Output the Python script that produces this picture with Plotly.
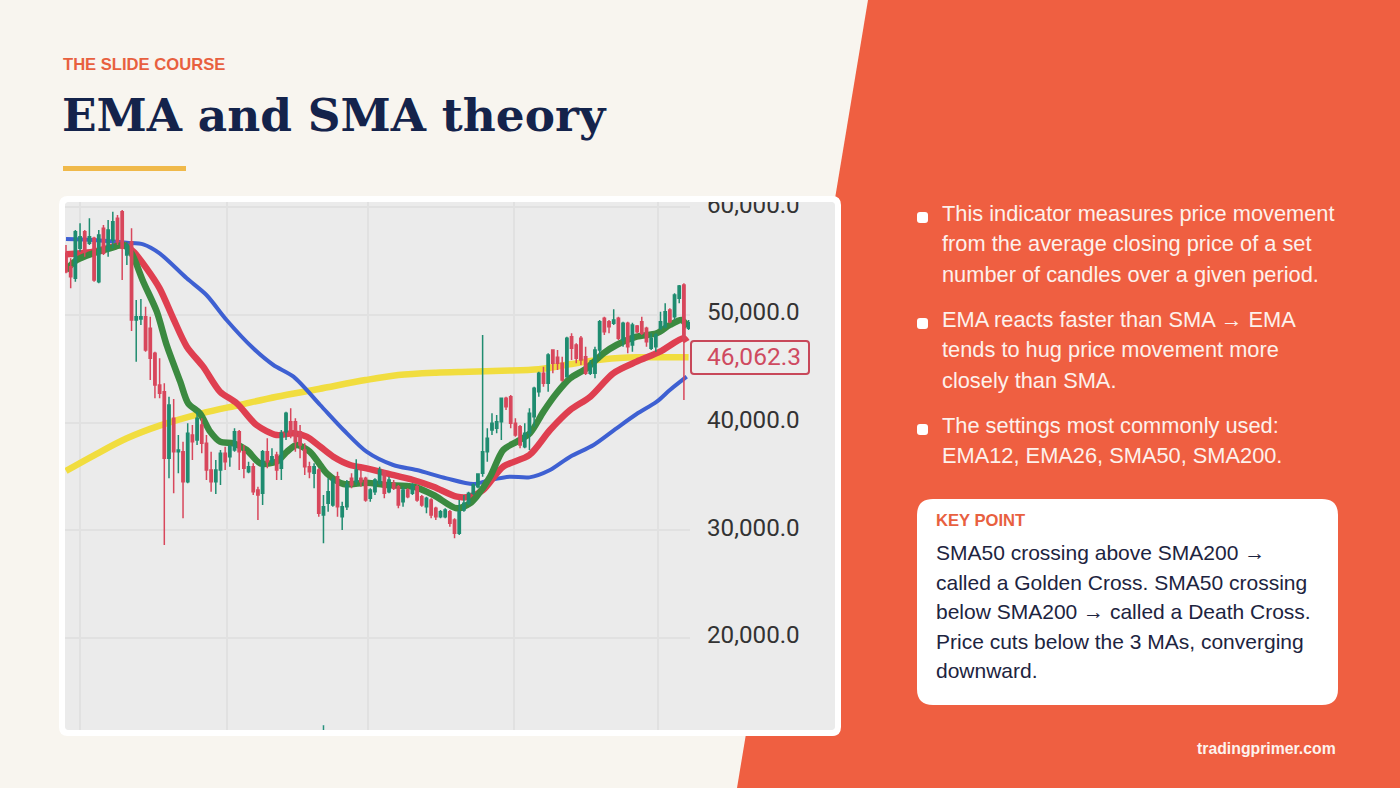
import plotly.graph_objects as go

candle_open = [55735, 54495, 53410, 56200, 57750, 56665, 57130, 53100, 58060, 56045,
    56975, 58990, 59610, 55580, 56820, 49535, 49628, 49845, 48760, 46435,
    43490, 42870, 36670, 40390, 37290, 37290, 34500, 38840, 38375, 39770,
    38065, 35585, 34500, 35585, 37135, 36825, 37445, 39150, 37290, 35430,
    35895, 33725, 33415, 37290, 36360, 36980, 35740, 39150, 40080, 40080,
    39150, 37445, 35895, 35275, 35585, 31400, 32485, 32330, 34965, 31245,
    32175, 34810, 34500, 34810, 34810, 32950, 33570, 34345, 35430, 33570,
    34345, 34035, 32640, 33725, 33415, 34035, 33105, 32175, 32795, 32020,
    31245, 31245, 31710, 30935, 29695, 31865, 32485, 33415, 34035, 35275,
    37290, 39305, 39460, 40080, 42250, 42405, 39925, 39615, 37755, 38995,
    40545, 42870, 44575, 43645, 46745, 46063, 45505, 44265, 47985, 47210,
    47830, 46125, 44575, 44575, 46745, 49690, 49380, 49225, 49690, 47675,
    49225, 47210, 48977, 49380, 48760, 46900, 47055, 48760, 48915, 50465,
    49845, 51550, 52790, 48760]
candle_high = [56510, 55270, 57905, 58525, 57905, 58990, 57285, 57905, 58370, 58835,
    59610, 59300, 59765, 56820, 58060, 51395, 51488, 50775, 49845, 46590,
    45970, 43645, 42405, 42188, 38840, 38220, 39925, 39770, 41010, 40390,
    38840, 37290, 36515, 37445, 37755, 37910, 39460, 39305, 37910, 36360,
    36205, 34035, 37445, 38530, 37600, 37290, 39305, 41010, 41320, 40390,
    39770, 38065, 36360, 36205, 35740, 33260, 34810, 34965, 35430, 32640,
    34655, 35275, 36577, 35585, 34965, 33880, 34810, 35895, 35585, 34965,
    34655, 34190, 34035, 33880, 34345, 34190, 33260, 33105, 32950, 32175,
    31865, 32020, 31865, 31090, 32795, 33260, 33570, 34345, 35275, 48140,
    39460, 40855, 40700, 42250, 42405, 42560, 40390, 39770, 39925, 41320,
    43335, 44730, 45195, 46435, 46807, 46745, 46125, 47985, 48295, 47365,
    48047, 47055, 45815, 47055, 49535, 49845, 49535, 50527, 49845, 49380,
    49380, 49287, 49070, 49845, 48915, 48295, 48295, 50310, 51085, 50620,
    52015, 52790, 52945, 49535]
candle_low = [53875, 52480, 53100, 55890, 55425, 56510, 53100, 52945, 55580, 55425,
    56200, 56510, 53255, 54650, 48512, 45660, 49070, 46590, 43955, 42250,
    42250, 28610, 34810, 33415, 35275, 31090, 34345, 36515, 37910, 37135,
    34655, 33570, 33353, 34190, 35585, 35895, 37290, 35585, 34810, 35275,
    33260, 30935, 32330, 35740, 36050, 34655, 34655, 38375, 38530, 37290,
    36670, 35120, 34810, 33880, 31245, 28765, 31710, 32175, 31245, 30005,
    31865, 33880, 34190, 34035, 32640, 32640, 33260, 34190, 32950, 33415,
    33725, 32020, 32175, 32950, 33260, 32640, 32175, 31555, 31090, 30935,
    31090, 31090, 30315, 29230, 29540, 31710, 32330, 33260, 33880, 34965,
    36360, 38840, 39000, 38375, 41165, 39460, 38685, 37600, 37600, 37445,
    39615, 42405, 43335, 42870, 44575, 44885, 43800, 44265, 45815, 45505,
    45350, 44420, 44420, 44110, 46125, 48140, 48295, 49070, 47675, 47055,
    46435, 46590, 48295, 48140, 47055, 46745, 46590, 48605, 48760, 49225,
    49535, 51085, 42095, 48605]
candle_close = [54030, 53565, 57750, 57285, 55890, 57285, 53255, 57440, 55735, 57905,
    58680, 56820, 56200, 56510, 49535, 49845, 49845, 46745, 45970, 43490,
    42715, 36670, 41630, 37290, 37445, 34500, 38995, 38220, 40390, 38065,
    35585, 34500, 35585, 37135, 36360, 37755, 39150, 37290, 35740, 35895,
    33570, 33260, 37290, 36360, 36825, 35585, 38995, 40855, 39150, 38220,
    37910, 35895, 35430, 35895, 31555, 32175, 33570, 34655, 32175, 32175,
    34190, 34190, 35585, 34500, 32795, 33725, 34655, 35585, 33415, 34655,
    33880, 32330, 33725, 33105, 34190, 32795, 32330, 32950, 31400, 31245,
    31710, 31865, 30625, 29695, 31710, 32485, 33415, 34190, 35213, 37290,
    38530, 39925, 40080, 42250, 41475, 39925, 38840, 37910, 38995, 40855,
    43180, 44575, 43645, 46280, 45505, 45505, 43955, 47830, 46900, 45970,
    45815, 44575, 45350, 46745, 49380, 48450, 48915, 49535, 47830, 49225,
    47055, 49070, 48450, 48295, 47520, 47830, 48140, 49380, 50310, 49380,
    51860, 52697, 47830, 49287]
candle_no = list(range(1, len(candle_open) + 1))

sma200_x = [1, 7, 14, 21, 30, 38, 46, 55, 65, 72, 80, 87, 94, 102, 109, 116, 123, 134]
sma200 = [35500, 36950, 38530, 39710, 40850, 41630, 42400, 43120, 43950, 44420, 44640, 44730,
    44820, 44950, 45440, 45880, 46060, 46060]

sma50_x = [1, 6.8, 14, 17.5, 21, 26.8, 31, 35.3, 41, 45.3, 49.6, 55.3, 60.3, 65.2, 70.9, 75.9,
    82.3, 88, 91.6, 95.8, 100, 104.4, 108.7, 113.7, 118.6, 122.9, 127.2, 130, 133.6]
sma50 = [57068, 56975, 56727, 56572, 55735, 53410, 51860, 49535, 46900, 45350, 44265, 41630,
    39305, 37290, 36050, 35585, 34810, 34283, 34655, 34965, 34900, 35585, 36825, 37910, 39460,
    40790, 41940, 43025, 44265]

ema26_x = [1, 4, 6.8, 9.7, 13.3, 15.4, 18.2, 21, 23.9, 26.8, 30.3, 33.9, 37.5, 41.7, 46, 49.6,
    52.4, 55.3, 58.1, 61.7, 65.2, 69.5, 75.2, 79.5, 84.5, 87.3, 90.1, 94.4, 100, 104.4, 108.7,
    113, 117.9, 122.9, 127.9, 132.9, 133.6]
ema26 = [55642, 55735, 55890, 56200, 56510, 55890, 54340, 52480, 49690, 47055, 45195, 42870,
    41785, 39770, 38840, 38995, 38685, 37755, 36825, 36050, 35740, 35275, 34655, 34035, 33105,
    33105, 33725, 35895, 36980, 39305, 41165, 42405, 44575, 45660, 46590, 47830, 47520]

ema12_x = [1, 3.3, 6.8, 10.4, 13.3, 15, 17.5, 20.4, 22.5, 25.4, 27.1, 29.6, 31.8, 33.9, 36.8,
    39.6, 42.5, 46, 48.2, 50.3, 53.1, 55.3, 56.7, 60.3, 65.2, 69.5, 75.2, 79.5, 84.5, 87.3, 88.7,
    91.6, 94.4, 97.3, 100.1, 103, 105.8, 108.7, 112.2, 115.8, 118.6, 122.9, 127.2, 130, 132.5, 133.8]
ema12 = [54185, 55115, 55735, 56200, 56510, 55735, 53100, 50310, 47210, 43800, 41785, 40855,
    39150, 38220, 38065, 37445, 36205, 36360, 37290, 37910, 37290, 36050, 35275, 34285, 34407,
    34190, 34035, 33260, 32020, 32485, 33105, 34965, 37445, 38220, 38995, 41010, 42715, 44110,
    45040, 46435, 47210, 47985, 48295, 49070, 49535, 48915]

volume_x = [56]
volume = [11870]

price_ticks = [20000, 30000, 40000, 50000, 60000]
time_ticks = [4, 35.4, 65.5, 96.7, 127.5]
last_price = "46,062.3"

bullets = [
    ["This indicator measures price movement", "from the average closing price of a set",
     "number of candles over a given period."],
    ["EMA reacts faster than SMA → EMA", "tends to hug price movement more", "closely than SMA."],
    ["The settings most commonly used:", "EMA12, EMA26, SMA50, SMA200."],
]
key_lines = ["SMA50 crossing above SMA200 →", "called a Golden Cross. SMA50 crossing",
    "below SMA200 → called a Death Cross.", "Price cuts below the 3 MAs, converging", "downward."]

W, H = 1400, 788
CREAM = "#f8f5ef"
ORANGE = "#ef5f41"
NAVY = "#14234b"
RED = "#d8475c"
GREEN = "#1f8c70"
SANS = "Liberation Sans"


def fx(x):
    return x / W


def fy(y):
    return 1 - y / H


def round_rect(x0, y0, x1, y1, r):
    # svg path in paper fractions, corners drawn with quadratic curves
    return (f"M {fx(x0 + r)} {fy(y0)} L {fx(x1 - r)} {fy(y0)} Q {fx(x1)} {fy(y0)} {fx(x1)} {fy(y0 + r)} "
            f"L {fx(x1)} {fy(y1 - r)} Q {fx(x1)} {fy(y1)} {fx(x1 - r)} {fy(y1)} "
            f"L {fx(x0 + r)} {fy(y1)} Q {fx(x0)} {fy(y1)} {fx(x0)} {fy(y1 - r)} "
            f"L {fx(x0)} {fy(y0 + r)} Q {fx(x0)} {fy(y0)} {fx(x0 + r)} {fy(y0)} Z")


def box(x0, y0, x1, y1, r, fill, layer="below", line=None, lw=0):
    return dict(type="path", path=round_rect(x0, y0, x1, y1, r), xref="paper", yref="paper",
                fillcolor=fill, layer=layer, line=dict(color=line or fill, width=lw))


def text(x, y, s, size, color, family=SANS, anchor="left"):
    return dict(x=fx(x), y=fy(y), xref="paper", yref="paper", text=s, showarrow=False, xanchor=anchor,
                yanchor="middle", borderpad=0, font=dict(family=family, size=size, color=color))


fig = go.Figure()

fig.add_trace(go.Scatter(x=sma200_x, y=sma200, mode="lines", name="SMA200",
    line=dict(color="#f1dd3f", width=6.5, shape="spline", smoothing=0.9)))
fig.add_trace(go.Scatter(x=sma50_x, y=sma50, mode="lines", name="SMA50",
    line=dict(color="#3e60d2", width=4, shape="spline", smoothing=0.8)))
fig.add_trace(go.Scatter(x=ema26_x, y=ema26, mode="lines", name="EMA26",
    line=dict(color="#df3f50", width=6.5, shape="spline", smoothing=0.8)))
fig.add_trace(go.Scatter(x=ema12_x, y=ema12, mode="lines", name="EMA12",
    line=dict(color="#3b8a40", width=6.5, shape="spline", smoothing=0.8)))
fig.add_trace(go.Bar(x=volume_x, y=volume, width=0.4, marker_color=GREEN, name="Volume"))

# candles sit on an overlay axis pair, otherwise the lines would cover them
fig.add_trace(go.Candlestick(x=candle_no, open=candle_open, high=candle_high, low=candle_low,
    close=candle_close, xaxis="x2", yaxis="y2", whiskerwidth=0, name="Price",
    increasing=dict(line=dict(color=GREEN, width=1.5), fillcolor=GREEN),
    decreasing=dict(line=dict(color=RED, width=1.5), fillcolor=RED)))

shapes = [
    dict(type="path", path=f"M {fx(868)} {fy(0)} L {fx(1400)} {fy(0)} L {fx(1400)} {fy(788)} L {fx(737)} {fy(788)} Z",
         xref="paper", yref="paper", fillcolor=ORANGE, line=dict(width=0), layer="below"),
    dict(type="rect", x0=fx(63), x1=fx(186), y0=fy(171), y1=fy(166), xref="paper", yref="paper",
         fillcolor="#f0b94a", line=dict(width=0), layer="below"),
    box(61, 196, 840, 736, 10, "#ffffff"),
    box(65, 202, 835, 730, 3, "#ebebeb"),
    # white frame goes over the chart so that it cuts off the top tick label
    box(62, 199, 838, 733, 6, "rgba(0,0,0,0)", layer="above", line="#ffffff", lw=6),
    box(691, 341, 809, 374, 3, "#ededed", layer="above", line="#c8485a", lw=2),
    box(917, 499, 1338, 705, 16, "#ffffff"),
]

annotations = [
    text(62, 64, "<b>THE SLIDE COURSE</b>", 16.6, "#e8603f"),
    text(61, 115, "<b>EMA and SMA theory</b>", 45.4, NAVY, family="DejaVu Serif"),
    text(754, 357, last_price, 24.5, "#cf4a60", family="Roboto", anchor="center"),
    text(935, 520, "<b>KEY POINT</b>", 16.6, "#e8603f"),
    text(1337, 748, "<b>tradingprimer.com</b>", 15.8, "#fdf3ee", anchor="right"),
]

bullet_y = [[213, 244, 274], [319, 349, 380], [425, 455]]
for lines, ys in zip(bullets, bullet_y):
    shapes.append(box(917, ys[0] - 1, 928, ys[0] + 10, 3, "#ffffff"))
    for s, y in zip(lines, ys):
        annotations.append(text(941, y, s, 21.8, "#fdf1ec"))

key_y = [552, 582, 611, 641, 670]
for s, y in zip(key_lines, key_y):
    annotations.append(text(935, y, s, 21, "#1d2440"))

grid = "#e1e1e1"
x_range = [0.786, 134.3]
y_range = [11405, 60509]
x_domain = [fx(65), fx(690)]
y_domain = [fy(730), fy(202)]

fig.update_layout(
    width=W, height=H, margin=dict(l=0, r=0, t=0, b=0), showlegend=False,
    paper_bgcolor=CREAM, plot_bgcolor="rgba(0,0,0,0)", shapes=shapes, annotations=annotations,
    boxgap=0.3,
    xaxis=dict(domain=x_domain, range=x_range, tickvals=time_ticks, showticklabels=False, ticks="",
               showgrid=True, gridcolor=grid, gridwidth=2, zeroline=False, showline=False,
               automargin=False, rangeslider=dict(visible=False)),
    yaxis=dict(domain=y_domain, range=y_range, tickvals=price_ticks, tickformat=",.1f", side="right",
               showgrid=True, gridcolor=grid, gridwidth=2, zeroline=False, showline=False, ticks="",
               automargin=False, ticklabelstandoff=16, ticklabelshift=-3,
               tickfont=dict(family="Roboto", size=24.2, color="#333333")),
    xaxis2=dict(domain=x_domain, range=x_range, overlaying="x", visible=False, automargin=False,
                rangeslider=dict(visible=False)),
    yaxis2=dict(domain=y_domain, range=y_range, overlaying="y", visible=False, automargin=False),
)

fig.write_html("out.html", config={"displayModeBar": False}, post_script="document.body.style.margin='0';")
